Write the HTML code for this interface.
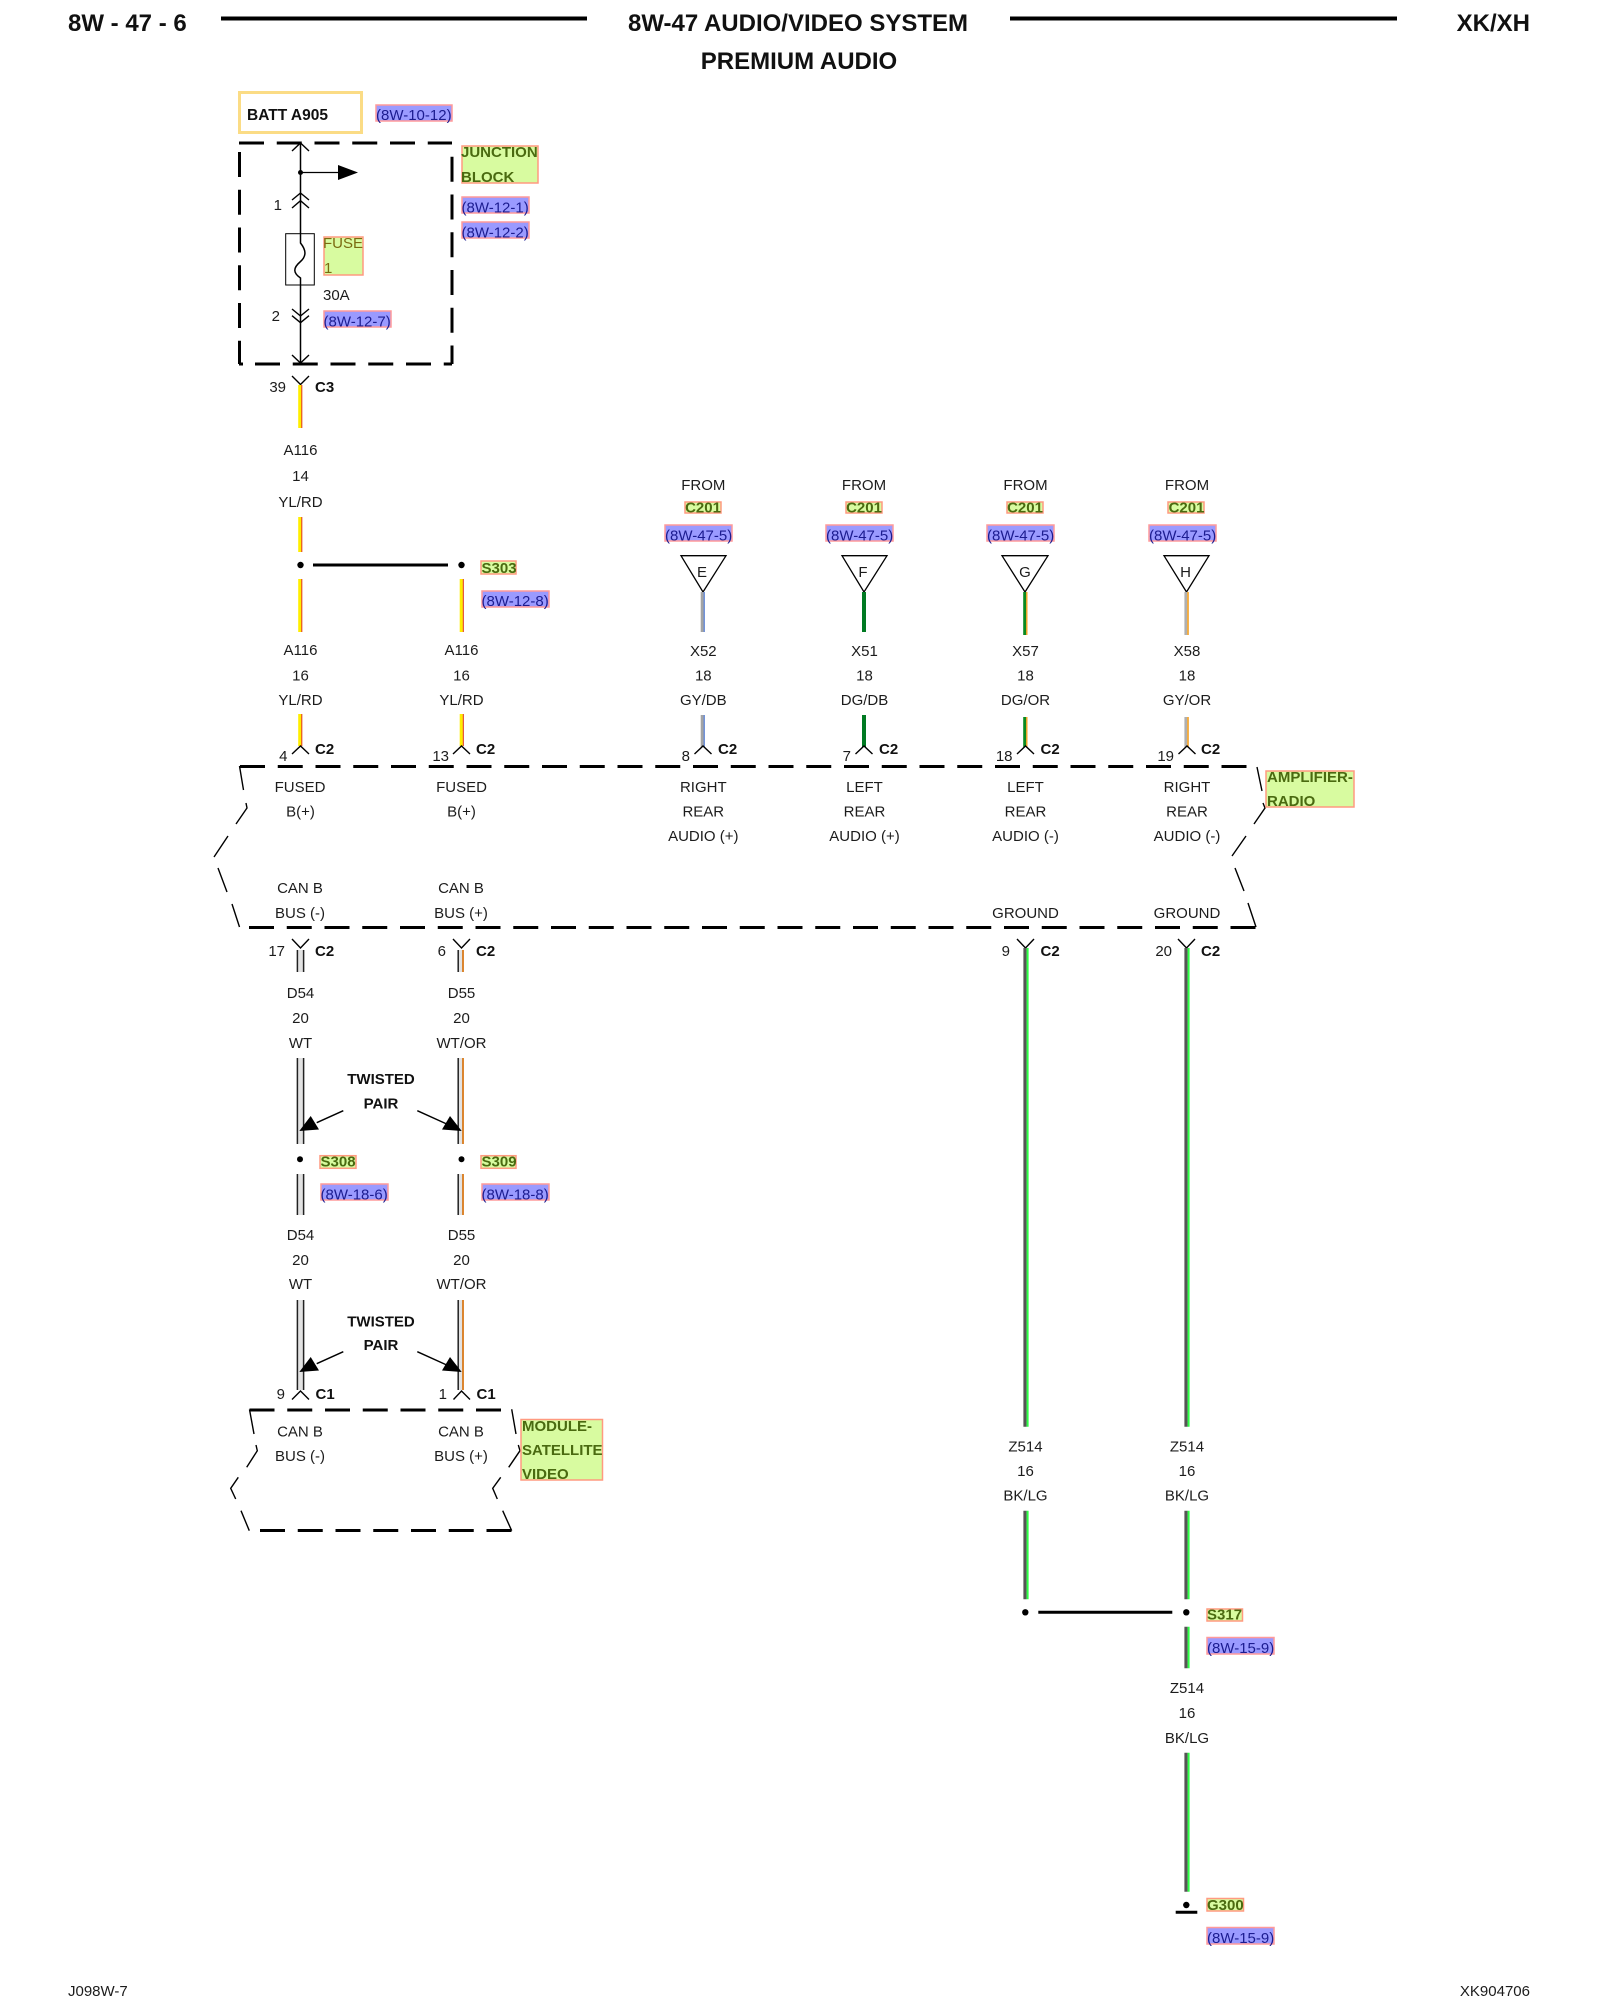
<!DOCTYPE html>
<html><head><meta charset="utf-8"><title>8W-47 Audio/Video System</title>
<style>
html,body{margin:0;padding:0;background:#fff}
svg{display:block}
text{font-family:"Liberation Sans",Arial,sans-serif;font-size:15px;fill:#1c1c1c}
.m{text-anchor:middle}.e{text-anchor:end}
.b{font-weight:bold;fill:#111}
.h{font-weight:bold;font-size:24px;fill:#111}
.g{font-weight:bold;fill:#4a6a10}
.fu{fill:#7a6a10}
.r{fill:#1c1c90}
.rb{fill:#9a9aff;stroke:#ff9a9a;stroke-width:1.5}
.gb{fill:#d8fba0;stroke:#ff9a80;stroke-width:1.5}
.th{fill:none;stroke:#000;stroke-width:1.4}
.da{fill:none;stroke:#000;stroke-width:3;stroke-dasharray:25 12.75}
.w{fill:none}
</style></head><body>
<svg width="1600" height="2000" viewBox="0 0 1600 2000" xmlns="http://www.w3.org/2000/svg">
<rect width="1600" height="2000" fill="#fff"/>

<!-- header -->
<text x="68" y="31" class="h">8W - 47 - 6</text>
<path d="M221 18.5H587M1010 18.5H1397" stroke="#000" stroke-width="4"/>
<text x="798" y="31" class="h m">8W-47 AUDIO/VIDEO SYSTEM</text>
<text x="799" y="69" class="h m">PREMIUM AUDIO</text>
<text x="1530" y="31" class="h e">XK/XH</text>
<text x="68" y="1996">J098W-7</text>
<text x="1530" y="1996" class="e">XK904706</text>

<!-- BATT -->
<rect x="239.5" y="92.5" width="122" height="40" fill="#fff" stroke="#fbdc85" stroke-width="3"/>
<text x="247" y="120" class="b" style="font-size:15.5px">BATT A905</text>
<rect x="376" y="105" width="76" height="16" class="rb"/><text x="376" y="120" class="r">(8W-10-12)</text>

<!-- junction block -->
<path class="da" d="M239 143H452"/>
<path class="da" d="M255 364H452"/>
<path d="M239 364H243" stroke="#000" stroke-width="3"/>
<path class="da" d="M239.5 152V364"/>
<path class="da" d="M452 156.7V364"/>
<rect x="462" y="146" width="76" height="37" class="gb"/>
<text x="461" y="157" class="g">JUNCTION</text><text x="461" y="182" class="g">BLOCK</text>
<rect x="462" y="197" width="67" height="16" class="rb"/><text x="461.5" y="212.5" class="r">(8W-12-1)</text>
<rect x="462" y="222" width="67" height="16" class="rb"/><text x="461.5" y="237.5" class="r">(8W-12-2)</text>

<path d="M300.5 143V243C306 250 307 256 300 262C293 268 293 273 300.5 278V363" fill="none" stroke="#000" stroke-width="1.5"/>
<path class="th" d="M292 151L300.5 143L309 151M292 200L300.5 193L309 200M292 208L300.5 200.7L309 208M292 309L300.5 316L309 309M292 315.7L300.5 322.7L309 315.7M292 355L300.5 363L309 355M292 376L300.5 384.5L309 376"/>
<circle cx="300.5" cy="172.5" r="2.5" fill="#000"/>
<path d="M300.5 172.5H340" stroke="#000" stroke-width="1.3"/>
<polygon points="338,165 358,172.5 338,180" fill="#000"/>
<text x="282" y="210" class="e">1</text>
<text x="280" y="321" class="e">2</text>
<rect x="285.7" y="233.7" width="28.6" height="51.3" fill="none" stroke="#000" stroke-width="1"/>
<rect x="324" y="237" width="39" height="38" class="gb"/>
<text x="323" y="248" class="fu">FUSE</text><text x="324" y="273" class="fu">1</text>
<text x="323" y="300">30A</text>
<rect x="324" y="311" width="67" height="16" class="rb"/><text x="323.5" y="326.5" class="r">(8W-12-7)</text>
<text x="286" y="392" class="e">39</text><text x="315" y="392" class="b">C3</text>

<!-- yellow wires -->
<path d="M299.8 385V428M299.8 517V552M299.8 579V632M299.8 714V746M461.3 579V632M461.3 714V746" stroke="#ffee00" stroke-width="3.2"/>
<path d="M301.8 385V428M301.8 517V552M301.8 579V632M301.8 714V746M463.3 579V632M463.3 714V746" stroke="#e03010" stroke-width="1"/>

<text x="300.5" y="455" class="m">A116</text><text x="300.5" y="481" class="m">14</text><text x="300.5" y="507" class="m">YL/RD</text>
<circle cx="300.5" cy="565" r="3.2" fill="#000"/><circle cx="461.5" cy="565" r="3.2" fill="#000"/>
<path d="M313 565H448" stroke="#000" stroke-width="3"/>
<rect x="481" y="561" width="35" height="13" class="gb"/><text x="481.5" y="573" class="g">S303</text>
<rect x="482" y="591" width="67" height="16" class="rb"/><text x="481.5" y="606" class="r">(8W-12-8)</text>

<text x="300.5" y="655" class="m">A116</text><text x="300.5" y="680.5" class="m">16</text><text x="300.5" y="705" class="m">YL/RD</text>
<text x="461.5" y="655" class="m">A116</text><text x="461.5" y="680.5" class="m">16</text><text x="461.5" y="705" class="m">YL/RD</text>

<!-- FROM columns -->
<text x="703.3" y="490" class="m">FROM</text>
<rect x="685" y="502" width="36" height="11" class="gb"/><text x="703" y="512.5" class="g m">C201</text>
<rect x="665" y="525" width="67" height="16" class="rb"/><text x="665" y="540.5" class="r">(8W-47-5)</text>
<polygon points="681,555.7 726,555.7 703,592" fill="#fff" stroke="#000" stroke-width="1.3"/><text x="702" y="577" class="m">E</text>

<text x="864" y="490" class="m">FROM</text>
<rect x="846" y="502" width="36" height="11" class="gb"/><text x="864" y="512.5" class="g m">C201</text>
<rect x="826" y="525" width="67" height="16" class="rb"/><text x="826" y="540.5" class="r">(8W-47-5)</text>
<polygon points="842,555.7 887,555.7 864,592" fill="#fff" stroke="#000" stroke-width="1.3"/><text x="863" y="577" class="m">F</text>

<text x="1025.5" y="490" class="m">FROM</text>
<rect x="1007" y="502" width="36" height="11" class="gb"/><text x="1025" y="512.5" class="g m">C201</text>
<rect x="987" y="525" width="67" height="16" class="rb"/><text x="987" y="540.5" class="r">(8W-47-5)</text>
<polygon points="1002,555.7 1048,555.7 1025,592" fill="#fff" stroke="#000" stroke-width="1.3"/><text x="1025" y="577" class="m">G</text>

<text x="1187" y="490" class="m">FROM</text>
<rect x="1168" y="502" width="36" height="11" class="gb"/><text x="1186.5" y="512.5" class="g m">C201</text>
<rect x="1149" y="525" width="67" height="16" class="rb"/><text x="1149" y="540.5" class="r">(8W-47-5)</text>
<polygon points="1164,555.7 1209,555.7 1186.5,592" fill="#fff" stroke="#000" stroke-width="1.3"/><text x="1185.5" y="577" class="m">H</text>

<path d="M702.2 592V632M702.2 715V747" stroke="#a4a4a4" stroke-width="3"/>
<path d="M704.2 592V632M704.2 715V747" stroke="#4f78d0" stroke-width="1.2"/>
<path d="M864 592V632M864 715V747" stroke="#007a22" stroke-width="4"/>
<path d="M1024.7 592V635M1024.7 717V747" stroke="#0a8a20" stroke-width="3"/>
<path d="M1026.8 592V635M1026.8 717V747" stroke="#f5a020" stroke-width="1.4"/>
<path d="M1185.8 592V635M1185.8 717V747" stroke="#b0b0b0" stroke-width="2.8"/>
<path d="M1188 592V635M1188 717V747" stroke="#f5a020" stroke-width="1.6"/>

<text x="703.3" y="656" class="m">X52</text><text x="703.3" y="680.5" class="m">18</text><text x="703.3" y="705" class="m">GY/DB</text>
<text x="864.5" y="656" class="m">X51</text><text x="864.5" y="680.5" class="m">18</text><text x="864.5" y="705" class="m">DG/DB</text>
<text x="1025.5" y="656" class="m">X57</text><text x="1025.5" y="680.5" class="m">18</text><text x="1025.5" y="705" class="m">DG/OR</text>
<text x="1187" y="656" class="m">X58</text><text x="1187" y="680.5" class="m">18</text><text x="1187" y="705" class="m">GY/OR</text>

<!-- C2 connectors top -->
<path class="th" d="M292 754L300.5 746L309 754M453 754L461.5 746L470 754M694.5 754L703 746L711.5 754M855.5 754L864 746L872.5 754M1017 754L1025.5 746L1034 754M1178.5 754L1187 746L1195.5 754"/>
<text x="287.5" y="761" class="e">4</text><text x="315" y="754" class="b">C2</text>
<text x="449" y="761" class="e">13</text><text x="476" y="754" class="b">C2</text>
<text x="690" y="761" class="e">8</text><text x="718" y="754" class="b">C2</text>
<text x="851" y="761" class="e">7</text><text x="879" y="754" class="b">C2</text>
<text x="1012.5" y="761" class="e">18</text><text x="1040.5" y="754" class="b">C2</text>
<text x="1174" y="761" class="e">19</text><text x="1201" y="754" class="b">C2</text>

<!-- amplifier box -->
<path class="da" d="M240 766.5H1248"/>
<path class="da" d="M249 927.5H1257"/>
<path class="th" d="M239.5 766L243.5 790M246 803L247 808L236 824M228 836L214 857M218 868L227 892M232 904L239.5 927"/>
<path class="th" d="M1257 767L1262 791M1263 803L1265 808L1254 824M1246 836L1232 856M1235 868L1244 891M1248 903L1256 927"/>
<rect x="1266" y="771" width="88" height="36" class="gb"/>
<text x="1267" y="782" class="g">AMPLIFIER-</text><text x="1267" y="806" class="g">RADIO</text>

<text x="300" y="792" class="m">FUSED</text><text x="300.5" y="816.5" class="m">B(+)</text>
<text x="461.5" y="792" class="m">FUSED</text><text x="461.5" y="816.5" class="m">B(+)</text>
<text x="703.3" y="792" class="m">RIGHT</text><text x="703.3" y="816.5" class="m">REAR</text><text x="703.3" y="841" class="m">AUDIO (+)</text>
<text x="864.5" y="792" class="m">LEFT</text><text x="864.5" y="816.5" class="m">REAR</text><text x="864.5" y="841" class="m">AUDIO (+)</text>
<text x="1025.5" y="792" class="m">LEFT</text><text x="1025.5" y="816.5" class="m">REAR</text><text x="1025.5" y="841" class="m">AUDIO (-)</text>
<text x="1187" y="792" class="m">RIGHT</text><text x="1187" y="816.5" class="m">REAR</text><text x="1187" y="841" class="m">AUDIO (-)</text>
<text x="300" y="893" class="m">CAN B</text><text x="300" y="918" class="m">BUS (-)</text>
<text x="461" y="893" class="m">CAN B</text><text x="461" y="918" class="m">BUS (+)</text>
<text x="1025.5" y="918" class="m">GROUND</text><text x="1187" y="918" class="m">GROUND</text>

<!-- lower connectors -->
<path class="th" d="M292 939L300.5 948L309 939M453 939L461.5 948L470 939M1017 939L1025.5 948L1034 939M1178 939L1186.5 948L1195 939"/>
<text x="285" y="956" class="e">17</text><text x="315" y="956" class="b">C2</text>
<text x="446" y="956" class="e">6</text><text x="476" y="956" class="b">C2</text>
<text x="1010" y="956" class="e">9</text><text x="1040.5" y="956" class="b">C2</text>
<text x="1172" y="956" class="e">20</text><text x="1201" y="956" class="b">C2</text>

<!-- D54/D55 wires -->
<g fill="none">
<path d="M300.5 950V972M300.5 1058V1144M300.5 1174V1215M300.5 1300V1390" stroke="#e2e2e2" stroke-width="6"/>
<path d="M297.4 950V972M297.4 1058V1144M297.4 1174V1215M297.4 1300V1390M303.6 950V972M303.6 1058V1144M303.6 1174V1215M303.6 1300V1390" stroke="#222" stroke-width="1.5"/>
<path d="M460.5 950V972M460.5 1058V1144M460.5 1174V1215M460.5 1300V1390" stroke="#e2e2e2" stroke-width="4"/>
<path d="M458.2 950V972M458.2 1058V1144M458.2 1174V1215M458.2 1300V1390" stroke="#222" stroke-width="1.5"/>
<path d="M463 950V972M463 1058V1144M463 1174V1215M463 1300V1390" stroke="#d97a1a" stroke-width="1.8"/>
</g>
<text x="300.5" y="998" class="m">D54</text><text x="300.5" y="1023" class="m">20</text><text x="300.5" y="1048" class="m">WT</text>
<text x="461.5" y="998" class="m">D55</text><text x="461.5" y="1023" class="m">20</text><text x="461.5" y="1048" class="m">WT/OR</text>

<text x="381" y="1084" class="b m">TWISTED</text><text x="381" y="1108.5" class="b m">PAIR</text>
<path class="th" d="M343.3 1110.7L316.7 1122.7M417.3 1110.7L446.7 1124"/>
<polygon points="299.3,1131 319,1129.5 310.7,1116" fill="#000"/>
<polygon points="461.7,1131 442,1129.5 450,1116" fill="#000"/>

<circle cx="300" cy="1159.3" r="3" fill="#000"/><circle cx="461.5" cy="1159.3" r="3" fill="#000"/>
<rect x="320" y="1155.7" width="36" height="12.6" class="gb"/><text x="320.5" y="1166.7" class="g">S308</text>
<rect x="481" y="1155.7" width="35" height="12.6" class="gb"/><text x="481.5" y="1166.7" class="g">S309</text>
<rect x="321" y="1184" width="67" height="16" class="rb"/><text x="320.5" y="1199.5" class="r">(8W-18-6)</text>
<rect x="482" y="1184" width="67" height="16" class="rb"/><text x="481.5" y="1199.5" class="r">(8W-18-8)</text>

<text x="300.5" y="1240" class="m">D54</text><text x="300.5" y="1265" class="m">20</text><text x="300.5" y="1289" class="m">WT</text>
<text x="461.5" y="1240" class="m">D55</text><text x="461.5" y="1265" class="m">20</text><text x="461.5" y="1289" class="m">WT/OR</text>

<text x="381" y="1326.5" class="b m">TWISTED</text><text x="381" y="1350" class="b m">PAIR</text>
<path class="th" d="M343.3 1351.7L316.7 1363.7M417.3 1351.7L446.7 1365"/>
<polygon points="299.3,1372 319,1370.5 310.7,1357" fill="#000"/>
<polygon points="461.7,1372 442,1370.5 450,1357" fill="#000"/>

<path class="th" d="M292 1399.5L300.5 1391L309 1399.5M453.5 1399.5L461.5 1391L470 1399.5"/>
<text x="285" y="1399" class="e">9</text><text x="315.5" y="1399" class="b">C1</text>
<text x="447" y="1399" class="e">1</text><text x="476.5" y="1399" class="b">C1</text>

<!-- satellite box -->
<path class="da" d="M249.5 1410H502"/>
<path class="da" d="M260 1530.5H512"/>
<path class="th" d="M249.5 1409.5L254 1434M256 1445L257.3 1450.7L246.7 1467.3M238.3 1477.3L230.7 1488.3L235.7 1499M241 1510.7L249.3 1530.7"/>
<path class="th" d="M511.7 1409.3L516 1434M518.3 1445L520 1450.7L508.7 1467.3M500.7 1477.3L492.7 1488.3L497.3 1499M502.7 1510.7L511.7 1530.7"/>
<rect x="521" y="1419.5" width="81.5" height="60.5" class="gb"/>
<text x="522" y="1431" class="g">MODULE-</text><text x="522" y="1455" class="g">SATELLITE</text><text x="522" y="1479" class="g">VIDEO</text>
<text x="300" y="1436.5" class="m">CAN B</text><text x="300" y="1461" class="m">BUS (-)</text>
<text x="461" y="1436.5" class="m">CAN B</text><text x="461" y="1461" class="m">BUS (+)</text>

<!-- ground wires -->
<path d="M1025 948V1426.7M1025 1510.7V1599.3M1186 948V1426.7M1186 1510.7V1599.3M1186 1626.7V1668.3M1186 1752.7V1891.7" stroke="#555" stroke-width="3.2"/>
<path d="M1027.6 948V1426.7M1027.6 1510.7V1599.3M1188.6 948V1426.7M1188.6 1510.7V1599.3M1188.6 1626.7V1668.3M1188.6 1752.7V1891.7" stroke="#2cff44" stroke-width="2"/>
<text x="1025.5" y="1451.5" class="m">Z514</text><text x="1025.5" y="1476" class="m">16</text><text x="1025.5" y="1500.5" class="m">BK/LG</text>
<text x="1187" y="1451.5" class="m">Z514</text><text x="1187" y="1476" class="m">16</text><text x="1187" y="1500.5" class="m">BK/LG</text>
<circle cx="1025.3" cy="1612.3" r="3.2" fill="#000"/><circle cx="1186.3" cy="1612.3" r="3.2" fill="#000"/>
<path d="M1038.3 1612.3H1172.3" stroke="#000" stroke-width="3"/>
<rect x="1207" y="1609" width="35.5" height="12" class="gb"/><text x="1207" y="1619.5" class="g">S317</text>
<rect x="1207" y="1637.5" width="67" height="16.5" class="rb"/><text x="1207" y="1653" class="r">(8W-15-9)</text>
<text x="1187" y="1693" class="m">Z514</text><text x="1187" y="1718" class="m">16</text><text x="1187" y="1743" class="m">BK/LG</text>
<circle cx="1186.3" cy="1905" r="3.2" fill="#000"/>
<path d="M1175.7 1912.3H1197.3" stroke="#000" stroke-width="3"/>
<rect x="1207" y="1898.5" width="36.5" height="12.5" class="gb"/><text x="1207" y="1910" class="g">G300</text>
<rect x="1207" y="1927.5" width="67" height="16.5" class="rb"/><text x="1207" y="1943" class="r">(8W-15-9)</text>
</svg>
</body></html>
